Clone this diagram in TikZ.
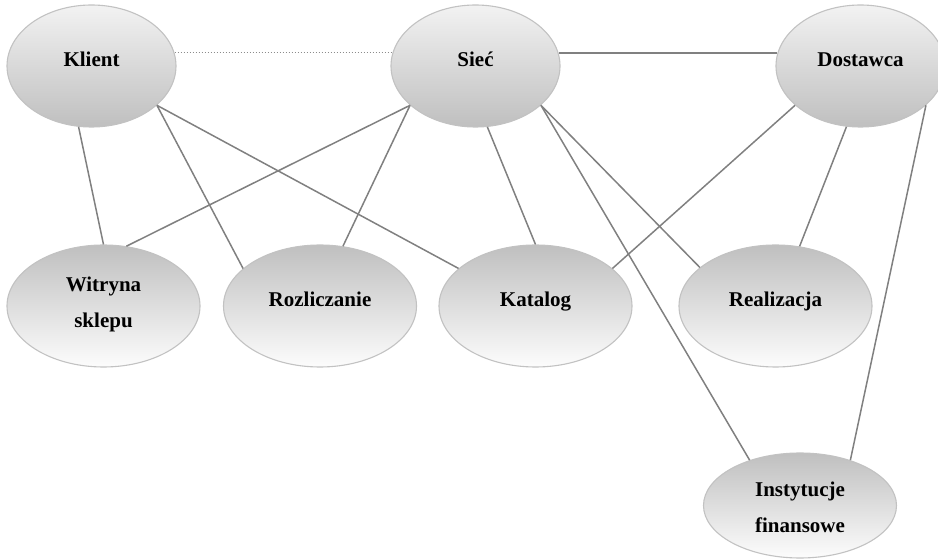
\documentclass[tikz,border=0pt]{standalone}
\usepackage{fontspec}
\setmainfont{Liberation Serif}
\usetikzlibrary{shapes.geometric}
\begin{document}
\begin{tikzpicture}[x=1pt,y=1pt,
 ell/.style={ellipse, draw=black!24, line width=1.1pt, inner sep=0pt, minimum width=169pt, minimum height=122pt},
 topell/.style={ell, top color=black!5, bottom color=black!25},
 botell/.style={ell, minimum width=193pt, minimum height=122pt, top color=black!25, bottom color=black!1},
 link/.style={draw=black!50, line width=1.5pt},
 dotlink/.style={draw=black!45, line width=1pt, dotted},
 txt/.style={font=\bfseries\fontsize{21}{24}\selectfont, inner sep=0pt, anchor=base}]
\useasboundingbox (0,0) rectangle (938,560);
\clip (0,0) rectangle (938,560);
% ellipses
\node[topell] (klient) at (91.5,494) {};
\node[topell] (siec) at (475.5,494) {};
\node[topell] (dost) at (860.5,494) {};
\node[botell] (witr) at (103.5,254) {};
\node[botell] (rozl) at (320,254) {};
\node[botell] (kat) at (535.5,254) {};
\node[botell] (real) at (775.5,254) {};
\node[botell, minimum height=105pt] (inst) at (800,54.5) {};
% connectors
\draw[dotlink] (klient.9) -- (siec.171);
\draw[link] (siec.9) -- (dost.171);
\draw[link] (klient.-102) -- (witr.90);
\draw[link] (klient.-31) -- (rozl.154);
\draw[link] (klient.-31) -- (kat.154);
\draw[link] (siec.-149) -- (witr.69);
\draw[link] (siec.-149) -- (rozl.69);
\draw[link] (siec.-79) -- (kat.90);
\draw[link] (siec.-31) -- (real.153);
\draw[link] (siec.-31) -- (inst.138);
\draw[link] (dost.-149) -- (kat.26);
\draw[link] (dost.-103) -- (real.68);
\draw[link] (dost.-31) -- (inst.42);
% labels
\node[txt] at ([yshift=-1pt]klient.center) {Klient};
\node[txt] at ([yshift=-1pt]siec.center) {Sieć};
\node[txt] at ([yshift=-1pt]dost.center) {Dostawca};
\node[txt] at ([yshift=14pt]witr.center) {Witryna};
\node[txt] at ([yshift=-22pt]witr.center) {sklepu};
\node[txt] at ([yshift=-1pt]rozl.center) {Rozliczanie};
\node[txt] at ([yshift=-1pt]kat.center) {Katalog};
\node[txt] at ([yshift=-1pt]real.center) {Realizacja};
\node[txt] at ([yshift=8.5pt]inst.center) {Instytucje};
\node[txt] at ([yshift=-27.5pt]inst.center) {finansowe};
\end{tikzpicture}
\end{document}
